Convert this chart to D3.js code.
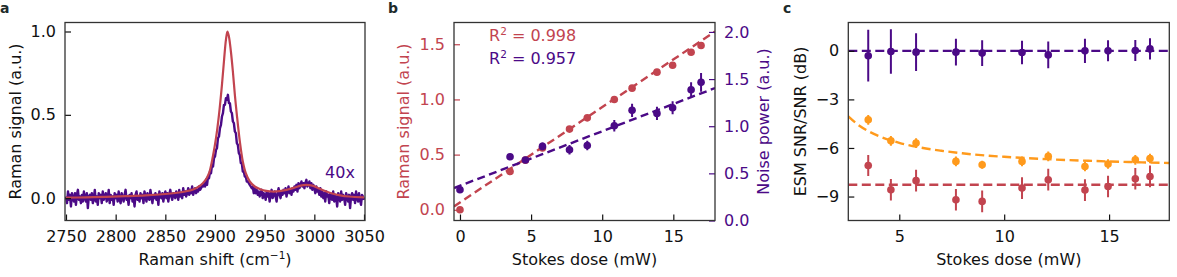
<!DOCTYPE html>
<html><head><meta charset="utf-8">
<script src="https://cdn.jsdelivr.net/npm/d3@7"></script>
<style>
html,body{margin:0;padding:0;background:#fff;}
svg{display:block;font-family:"DejaVu Sans",Verdana,sans-serif;}
</style></head>
<body><svg id="c" width="1177" height="277"></svg>
<script>
// ---------------- DATA ----------------
// Panel a: measured spectrum (40x), one value per cm^-1 starting at 2750
const specStart = 2750;
const specY = [
0.01,-0.03,0.04,-0.01,0.02,-0.05,0.03,0.00,-0.02,0.03,
-0.04,0.02,0.05,-0.01,0.01,-0.03,0.02,-0.02,0.04,0.00,
-0.02,0.03,-0.06,0.01,0.02,-0.01,0.03,-0.03,0.00,0.05,
-0.02,0.01,-0.04,0.03,0.00,0.02,-0.03,0.04,-0.01,0.01,
0.03,-0.02,0.00,0.05,-0.03,0.02,-0.01,0.01,-0.04,0.03,
0.00,0.02,-0.02,0.04,-0.01,-0.03,0.03,0.01,-0.02,0.02,
0.05,-0.01,0.01,-0.04,0.02,0.00,0.03,-0.02,0.01,-0.05,
0.02,0.04,-0.01,0.01,-0.02,0.03,0.00,0.02,-0.03,0.04,
0.01,-0.02,0.03,0.00,-0.01,0.05,0.01,-0.03,0.02,0.00,
0.03,-0.01,0.02,-0.04,0.04,0.01,0.00,0.03,-0.02,0.02,
0.04,0.00,0.03,-0.02,0.02,0.05,0.01,-0.01,0.03,0.02,
0.00,0.04,0.02,-0.01,0.05,0.01,0.03,0.00,0.06,0.02,
0.04,0.01,0.03,0.06,0.02,0.05,0.03,0.07,0.02,0.04,
0.06,0.03,0.05,0.04,0.07,0.05,0.06,0.08,0.07,0.09,
0.07,0.11,0.08,0.13,0.12,0.16,0.15,0.20,0.19,0.24,
0.25,0.29,0.30,0.36,0.37,0.42,0.44,0.49,0.51,0.56,
0.56,0.60,0.59,0.62,0.57,0.57,0.52,0.51,0.46,0.45,
0.40,0.39,0.33,0.32,0.27,0.26,0.21,0.21,0.16,0.16,
0.13,0.13,0.10,0.10,0.09,0.08,0.07,0.06,0.07,0.03,
0.06,0.03,0.05,0.02,0.04,0.01,0.03,0.05,0.00,0.03,
0.02,-0.01,0.04,0.01,0.03,-0.02,0.02,0.05,0.00,0.02,
0.04,0.01,-0.02,0.03,0.06,0.02,0.00,0.04,0.02,0.05,
0.03,0.06,0.01,0.04,0.07,0.03,0.05,0.02,0.06,0.04,
0.07,0.05,0.08,0.04,0.09,0.06,0.08,0.10,0.07,0.09,
0.06,0.09,0.11,0.07,0.08,0.10,0.06,0.09,0.05,0.08,
0.06,0.03,0.07,0.04,0.05,0.02,0.06,0.01,0.04,0.00,
0.03,-0.02,0.04,0.01,0.02,-0.03,0.03,0.00,-0.01,0.04,
-0.02,0.02,0.00,-0.05,0.03,0.01,-0.02,0.04,-0.01,0.02,
0.00,-0.04,0.03,0.01,-0.02,0.02,-0.06,0.01,0.03,-0.01,
0.02,-0.03,0.04,0.00,-0.02,0.03,-0.01,-0.04,0.02,0.01,
-0.01];
// Panel a: reference spectrum (smooth)
const refX = [2750,2770,2790,2810,2830,2850,2860,2870,2878,2885,2890,2894,2898,2901,2904,2907,2909,2911,2912.5,2914,2916,2918,2920,2922,2925,2928,2931,2935,2940,2945,2950,2957,2965,2972,2980,2986,2992,2998,3004,3010,3018,3026,3035,3050];
const refY = [0.003,0.005,0.008,0.012,0.017,0.025,0.031,0.040,0.052,0.075,0.105,0.150,0.255,0.36,0.50,0.68,0.82,0.95,1.0,0.97,0.88,0.76,0.62,0.50,0.34,0.22,0.15,0.10,0.07,0.055,0.045,0.04,0.042,0.05,0.063,0.075,0.08,0.075,0.06,0.045,0.028,0.017,0.01,0.005];
const ticksA_x = [2750,2800,2850,2900,2950,3000,3050];
const ticksA_y = [0.0,0.5,1.0];

// Panel b
const doseB   = [0, 3.52, 4.6, 5.8, 7.7, 8.95, 10.85, 12.1, 13.85, 14.95, 16.25, 16.95];
const ramanB  = [0.0, 0.347, 0.45, 0.56, 0.731, 0.833, 0.999, 1.102, 1.247, 1.31, 1.428, 1.489];
const noiseB  = [0.326, 0.676, 0.641, 0.786, 0.75, 0.796, 1.005, 1.168, 1.136, 1.196, 1.387, 1.465];
const noiseErrB = [0.02, 0.03, 0.03, 0.04, 0.05, 0.05, 0.06, 0.07, 0.07, 0.07, 0.08, 0.10];
const ramanFitX = [-0.42, 17.93], ramanFitY = [0.03, 1.615];
const noiseFitX = [-0.42, 17.93], noiseFitY = [0.344, 1.405];
const ticksB_x = [0,5,10,15];
const ticksB_yl = [0.0,0.5,1.0,1.5];
const ticksB_yr = [0.0,0.5,1.0,1.5,2.0];

// Panel c
const doseC = [3.52, 4.6, 5.8, 7.7, 8.95, 10.85, 12.1, 13.85, 14.95, 16.25, 16.95];
const purpleC = [-0.3,-0.04,-0.08,-0.08,-0.14,-0.1,-0.25,0.0,0.0,0.02,0.12];
const purpleErrC = [1.6,1.37,1.16,0.82,0.8,0.73,0.83,0.75,0.65,0.65,0.65];
const orangeC = [-4.26,-5.56,-5.70,-6.83,-7.04,-6.83,-6.52,-7.14,-6.99,-6.73,-6.65];
const orangeErrC = [0.3,0.3,0.3,0.3,0.25,0.3,0.3,0.3,0.3,0.3,0.3];
const redC = [-7.08,-8.58,-8.02,-9.2,-9.3,-8.48,-7.96,-8.6,-8.38,-7.9,-7.76];
const redErrC = [0.65,0.67,0.67,0.67,0.67,0.67,0.67,0.67,0.67,0.67,0.67];
const purpleLevelC = 0, redLevelC = -8.27;
const orangeFitX = [2.57,3,3.5,4,5,6,7,8,10,12,14,16,17.87];
const orangeFitY = [-4.05,-4.53,-4.94,-5.25,-5.68,-5.97,-6.17,-6.33,-6.545,-6.69,-6.79,-6.87,-6.93];
const ticksC_x = [5,10,15];
const ticksC_y = [0,-3,-6,-9];

// ---------------- STYLE ----------------
const RED = "#c2444f", PURPLE = "#4b0a87", ORANGE = "#ff9a1c", FRAME = "#333";
const FS = 16, SUP = 10.5;
const svg = d3.select("#c");
const yTop = 22.5, yBot = 220.5;

function frame(g, x0, x1){
  g.append("rect").attr("x",x0).attr("y",yTop).attr("width",x1-x0).attr("height",yBot-yTop)
   .attr("fill","none").attr("stroke",FRAME).attr("stroke-width",1.3);
}
function styleAxis(sel, color){
  sel.select(".domain").remove();
  sel.selectAll(".tick line").attr("stroke",color).attr("stroke-width",1.2);
  sel.selectAll(".tick text").attr("fill",color).attr("font-size",FS).attr("font-family","DejaVu Sans");
}
function clip(id,x0,x1){
  svg.append("clipPath").attr("id",id).append("rect").attr("x",x0).attr("y",yTop).attr("width",x1-x0).attr("height",yBot-yTop);
}
function panelLetter(t,x,y){
  svg.append("text").attr("x",x).attr("y",y).text(t).attr("font-weight","bold").attr("font-size",14).attr("fill","#1d2b2b");
}

// ---------------- PANEL A ----------------
{
  const x0=65, x1=365;
  const x = d3.scaleLinear().domain([2749,3051]).range([x0,x1]);
  const y = d3.scaleLinear().domain([-0.134,1.054]).range([yBot,yTop]);
  clip("ca",x0,x1);
  const g = svg.append("g").attr("clip-path","url(#ca)");
  const spec = specY.map((v,i)=>[specStart+i, v]);
  g.append("path").datum(spec).attr("d",d3.line().x(d=>x(d[0])).y(d=>y(d[1])))
    .attr("fill","none").attr("stroke",PURPLE).attr("stroke-width",2.4).attr("stroke-linejoin","round");
  const ref = refX.map((v,i)=>[v, refY[i]]);
  g.append("path").datum(ref).attr("d",d3.line().curve(d3.curveCatmullRom).x(d=>x(d[0])).y(d=>y(d[1])))
    .attr("fill","none").attr("stroke",RED).attr("stroke-width",2.2);
  const ax = svg.append("g").attr("transform",`translate(0,${yBot})`)
    .call(d3.axisBottom(x).tickValues(ticksA_x).tickSize(-6).tickPadding(10).tickFormat(d3.format("d")));
  styleAxis(ax,"#111");
  const ay = svg.append("g").attr("transform",`translate(${x0},0)`)
    .call(d3.axisLeft(y).tickValues(ticksA_y).tickSize(-6).tickPadding(9).tickFormat(d3.format(".1f")));
  styleAxis(ay,"#111");
  frame(svg,x0,x1);
  svg.append("text").attr("x",340).attr("y",178).attr("text-anchor","middle").attr("fill",PURPLE).attr("font-size",FS).text("40x");
  const xl = svg.append("text").attr("x",(x0+x1)/2).attr("y",265).attr("text-anchor","middle").attr("font-size",FS).attr("fill","#111");
  xl.append("tspan").text("Raman shift (cm");
  xl.append("tspan").attr("dy",-6.5).attr("font-size",SUP).text("−1");
  xl.append("tspan").attr("dy",6.5).text(")");
  svg.append("text").attr("transform",`translate(21,${(yTop+yBot)/2}) rotate(-90)`).attr("text-anchor","middle")
    .attr("font-size",FS).attr("fill","#111").text("Raman signal (a.u.)");
  panelLetter("a",0,13);
}

// ---------------- PANEL B ----------------
{
  const x0=454, x1=715;
  const x = d3.scaleLinear().domain([-0.42,17.93]).range([x0,x1]);
  const yl = d3.scaleLinear().domain([-0.097,1.697]).range([yBot,yTop]);
  const yr = d3.scaleLinear().domain([0,2.1]).range([yBot,yTop]);
  clip("cb",x0,x1);
  const g = svg.append("g").attr("clip-path","url(#cb)");
  const ln = (xs,ys,ys2)=>d3.line().x(d=>x(d[0])).y(d=>ys2(d[1]))(xs.map((v,i)=>[v,ys[i]]));
  g.append("path").attr("d",ln(ramanFitX,ramanFitY,yl)).attr("fill","none").attr("stroke",RED).attr("stroke-width",2.4).attr("stroke-dasharray","8,4.5");
  g.append("path").attr("d",ln(noiseFitX,noiseFitY,yr)).attr("fill","none").attr("stroke",PURPLE).attr("stroke-width",2.4).attr("stroke-dasharray","8,4.5");
  g.selectAll(".rd").data(doseB).enter().append("circle").attr("cx",d=>x(d)).attr("cy",(d,i)=>yl(ramanB[i])).attr("r",3.8).attr("fill",RED);
  g.selectAll(".pe").data(doseB).enter().append("line").attr("x1",d=>x(d)).attr("x2",d=>x(d))
    .attr("y1",(d,i)=>yr(noiseB[i]-noiseErrB[i])).attr("y2",(d,i)=>yr(noiseB[i]+noiseErrB[i])).attr("stroke",PURPLE).attr("stroke-width",2);
  g.selectAll(".pd").data(doseB).enter().append("circle").attr("cx",d=>x(d)).attr("cy",(d,i)=>yr(noiseB[i])).attr("r",3.8).attr("fill",PURPLE);

  const ax = svg.append("g").attr("transform",`translate(0,${yBot})`)
    .call(d3.axisBottom(x).tickValues(ticksB_x).tickSize(-6).tickPadding(10).tickFormat(d3.format("d")));
  styleAxis(ax,"#111");
  const al = svg.append("g").attr("transform",`translate(${x0},0)`)
    .call(d3.axisLeft(yl).tickValues(ticksB_yl).tickSize(-6).tickPadding(9).tickFormat(d3.format(".1f")));
  styleAxis(al,RED);
  const ar = svg.append("g").attr("transform",`translate(${x1},0)`)
    .call(d3.axisRight(yr).tickValues(ticksB_yr).tickSize(-6).tickPadding(9).tickFormat(d3.format(".1f")));
  styleAxis(ar,PURPLE);
  frame(svg,x0,x1);
  const t1 = svg.append("text").attr("x",489).attr("y",41).attr("fill",RED).attr("font-size",FS);
  t1.append("tspan").text("R"); t1.append("tspan").attr("dy",-6.5).attr("font-size",SUP).text("2");
  t1.append("tspan").attr("dy",6.5).text(" = 0.998");
  const t2 = svg.append("text").attr("x",489).attr("y",64).attr("fill",PURPLE).attr("font-size",FS);
  t2.append("tspan").text("R"); t2.append("tspan").attr("dy",-6.5).attr("font-size",SUP).text("2");
  t2.append("tspan").attr("dy",6.5).text(" = 0.957");
  svg.append("text").attr("x",(x0+x1)/2).attr("y",265).attr("text-anchor","middle").attr("font-size",FS).attr("fill","#111").text("Stokes dose (mW)");
  svg.append("text").attr("transform",`translate(409,${(yTop+yBot)/2}) rotate(-90)`).attr("text-anchor","middle")
    .attr("font-size",FS).attr("fill",RED).text("Raman signal (a.u.)");
  svg.append("text").attr("transform",`translate(769,${(yTop+yBot)/2}) rotate(-90)`).attr("text-anchor","middle")
    .attr("font-size",FS).attr("fill",PURPLE).text("Noise power (a.u.)");
  panelLetter("b",388,13);
}

// ---------------- PANEL C ----------------
{
  const x0=848.3, x1=1169.3;
  const x = d3.scaleLinear().domain([2.57,17.87]).range([x0,x1]);
  const y = d3.scaleLinear().domain([-10.48,1.75]).range([yBot,yTop]);
  clip("cc",x0,x1);
  const g = svg.append("g").attr("clip-path","url(#cc)");
  const dash = "9,4.5";
  g.append("line").attr("x1",x0).attr("x2",x1).attr("y1",y(purpleLevelC)).attr("y2",y(purpleLevelC)).attr("stroke",PURPLE).attr("stroke-width",2.4).attr("stroke-dasharray",dash);
  g.append("line").attr("x1",x0).attr("x2",x1).attr("y1",y(redLevelC)).attr("y2",y(redLevelC)).attr("stroke",RED).attr("stroke-width",2.4).attr("stroke-dasharray",dash);
  g.append("path").datum(orangeFitX.map((v,i)=>[v,orangeFitY[i]]))
    .attr("d",d3.line().curve(d3.curveMonotoneX).x(d=>x(d[0])).y(d=>y(d[1])))
    .attr("fill","none").attr("stroke",ORANGE).attr("stroke-width",2.4).attr("stroke-dasharray",dash);
  function series(vals, errs, color){
    g.append("g").selectAll("line").data(doseC).enter().append("line").attr("x1",d=>x(d)).attr("x2",d=>x(d))
      .attr("y1",(d,i)=>y(vals[i]-errs[i])).attr("y2",(d,i)=>y(vals[i]+errs[i])).attr("stroke",color).attr("stroke-width",2);
    g.append("g").selectAll("circle").data(doseC).enter().append("circle").attr("cx",d=>x(d)).attr("cy",(d,i)=>y(vals[i])).attr("r",3.8).attr("fill",color);
  }
  series(redC, redErrC, RED);
  series(orangeC, orangeErrC, ORANGE);
  series(purpleC, purpleErrC, PURPLE);
  const ax = svg.append("g").attr("transform",`translate(0,${yBot})`)
    .call(d3.axisBottom(x).tickValues(ticksC_x).tickSize(-6).tickPadding(10).tickFormat(d3.format("d")));
  styleAxis(ax,"#111");
  const ay = svg.append("g").attr("transform",`translate(${x0},0)`)
    .call(d3.axisLeft(y).tickValues(ticksC_y).tickSize(-6).tickPadding(9).tickFormat(d3.format("d")));
  styleAxis(ay,"#111");
  frame(svg,x0,x1);
  svg.append("text").attr("x",(x0+x1)/2).attr("y",265).attr("text-anchor","middle").attr("font-size",FS).attr("fill","#111").text("Stokes dose (mW)");
  svg.append("text").attr("transform",`translate(806,${(yTop+yBot)/2}) rotate(-90)`).attr("text-anchor","middle")
    .attr("font-size",FS).attr("fill","#111").text("ESM SNR/SNR (dB)");
  panelLetter("c",783,13);
}
</script></body></html>
